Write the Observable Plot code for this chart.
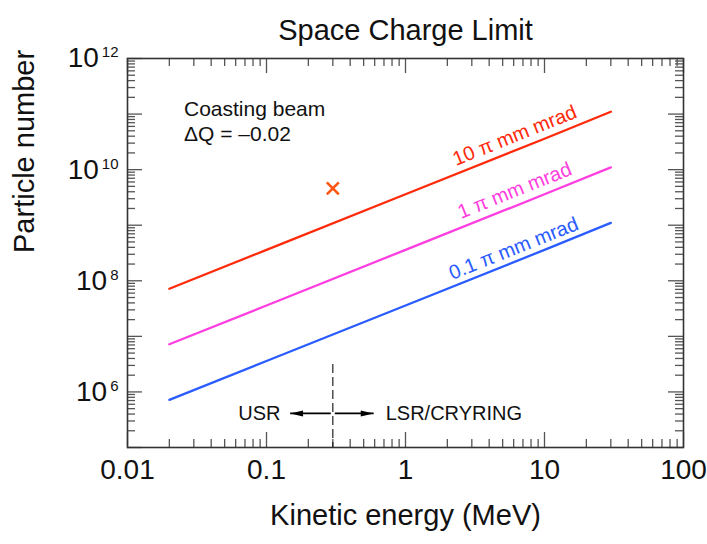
<!DOCTYPE html>
<html>
<head>
<meta charset="utf-8">
<script src="https://cdn.jsdelivr.net/npm/d3@7"></script>
<script src="https://cdn.jsdelivr.net/npm/@observablehq/plot@0.6"></script>
<style>
  html, body { margin: 0; padding: 0; background: #fff; }
</style>
</head>
<body>
<div id="chart"></div>
<script>
// ---- data ----
const energy = [0.02, 0.1, 1, 10, 30];                 // MeV
const n10pi = [7.2e7, 3.6e8, 3.6e9, 3.6e10, 1.1e11];  // 10 π mm mrad
const n1pi  = [7.2e6, 3.6e7, 3.6e8, 3.6e9, 1.1e10];   // 1 π mm mrad
const n01pi = [7.2e5, 3.6e6, 3.6e7, 3.6e8, 1.1e9];    // 0.1 π mm mrad

const seriesNames = ["10 π mm mrad", "1 π mm mrad", "0.1 π mm mrad"];
const seriesColors = ["#ff2a0a", "#ff3ee0", "#2a5cff"];
const labelE = [6.1, 6.1, 6.0];
const labelN = [4.1e10, 4.2e9, 3.8e8];

const markerE = [0.3];
const markerN = [4.6e9];

const boundaryE = [0.3];
const boundaryN = [3.1e6, 1e5];

const arrowFromE = [0.29, 0.31];
const arrowToE = [0.148, 0.59];
const arrowN = [4.1e5, 4.1e5];
const regionText = ["USR", "LSR/CRYRING"];
const regionE = [0.126, 0.72];
const regionAnchor = ["end", "start"];

const noteE = [0.0255];
const noteN = [1.95e11];
const noteText = ["Coasting beam\nΔQ = –0.02"];

const xTickValues = [0.01, 0.1, 1, 10, 100];
const xTickLabels = ["0.01", "0.1", "1", "10", "100"];
const yTickValues = [1e6, 1e8, 1e10, 1e12];
const yTickExponents = ["6", "8", "10", "12"];
const yDecades = [1e5, 1e6, 1e7, 1e8, 1e9, 1e10, 1e11, 1e12];

const titleText = "Space Charge Limit";
const xTitle = "Kinetic energy (MeV)";
const yTitle = "Particle number";

// minor ticks (2..9 within each decade)
const xMinor = [];
for (const d of [0.01, 0.1, 1, 10]) for (let k = 2; k <= 9; k++) xMinor.push(d * k);
const yMinor = [];
for (const d of yDecades.slice(0, -1)) for (let k = 2; k <= 9; k++) yMinor.push(d * k);

// ---- layout ----
const W = 707, H = 544;
const mL = 127, mR = 24, mT = 58, mB = 97;
const fw = W - mL - mR, fh = H - mT - mB;
const font = "'Liberation Sans', Arial, Helvetica, sans-serif";
const tickColor = "#555";

const rows = (ys) => energy.map((e, i) => ({e, n: ys[i]}));
const seriesRows = [n10pi, n1pi, n01pi];
const labels = seriesNames.map((s, i) => ({s, e: labelE[i], n: labelN[i], c: seriesColors[i]}));
const arrows = arrowFromE.map((e, i) => ({x1: e, x2: arrowToE[i], y: arrowN[i], rot: arrowToE[i] < e ? 180 : 0}));
const regions = regionText.map((t, i) => ({t, e: regionE[i], n: arrowN[i], a: regionAnchor[i]}));

const arrowHead = {
  draw(ctx, size) {
    const r = Math.sqrt(size / Math.PI);
    ctx.moveTo(0, 0);
    ctx.lineTo(-4.3 * r, -r);
    ctx.lineTo(-4.3 * r, r);
    ctx.closePath();
  }
};

const chart = Plot.plot({
  width: W, height: H,
  marginLeft: mL, marginRight: mR, marginTop: mT, marginBottom: mB,
  style: {fontFamily: font, background: "#fff", color: "#111"},
  x: {type: "log", domain: [0.01, 100]},
  y: {type: "log", domain: [1e5, 1e12]},
  marks: [
    // tick marks (inward, on all four sides)
    Plot.tickX(xTickValues, {x: d => d, insetTop: fh - 15, stroke: tickColor, strokeWidth: 1.3}),
    Plot.tickX(xTickValues, {x: d => d, insetBottom: fh - 15, stroke: tickColor, strokeWidth: 1.3}),
    Plot.tickX(xMinor, {x: d => d, insetTop: fh - 8, stroke: tickColor, strokeWidth: 1.3}),
    Plot.tickX(xMinor, {x: d => d, insetBottom: fh - 8, stroke: tickColor, strokeWidth: 1.3}),
    Plot.tickY(yDecades, {y: d => d, insetRight: fw - 15, stroke: tickColor, strokeWidth: 1.3}),
    Plot.tickY(yDecades, {y: d => d, insetLeft: fw - 15, stroke: tickColor, strokeWidth: 1.3}),
    Plot.tickY(yMinor, {y: d => d, insetRight: fw - 8, stroke: tickColor, strokeWidth: 1.3}),
    Plot.tickY(yMinor, {y: d => d, insetLeft: fw - 8, stroke: tickColor, strokeWidth: 1.3}),
    Plot.frame({stroke: "#333", strokeWidth: 1.6}),

    Plot.axisX({ticks: xTickValues, tickSize: 0, tickPadding: 12, fontSize: 28, label: null,
      tickFormat: d => xTickLabels[xTickValues.indexOf(d)]}),
    Plot.axisY({ticks: yTickValues, tickSize: 0, tickPadding: 9, fontSize: 28, label: null,
      tickFormat: d => yTickExponents[yTickValues.indexOf(d)]}),

    // series lines
    ...seriesRows.map((ys, i) => Plot.line(rows(ys), {x: "e", y: "n", stroke: seriesColors[i], strokeWidth: 2.3})),
    Plot.text(labels, {x: "e", y: "n", text: "s", fill: "c", rotate: -21.8, fontSize: 20}),

    // measured point
    Plot.dot(markerE.map((e, i) => ({e, n: markerN[i]})), {x: "e", y: "n", symbol: "times", r: 5.5, stroke: "#ff5511", strokeWidth: 2.6}),

    // USR / LSR boundary
    Plot.ruleX(boundaryE, {x: d => d, y1: boundaryN[0], y2: boundaryN[1], stroke: "#222", strokeWidth: 1.2, strokeDasharray: "9,4"}),
    Plot.link(arrows, {x1: "x1", x2: "x2", y1: "y", y2: "y", stroke: "#000", strokeWidth: 1.8}),
    Plot.dot(arrows, {x: "x2", y: "y", symbol: arrowHead, r: 3, fill: "#000", stroke: "none", rotate: "rot"}),
    Plot.text(regions.filter(d => d.a === "end"), {x: "e", y: "n", text: "t", textAnchor: "end", fontSize: 20, fill: "#111"}),
    Plot.text(regions.filter(d => d.a === "start"), {x: "e", y: "n", text: "t", textAnchor: "start", fontSize: 20, fill: "#111"}),

    // note
    Plot.text(noteText, {x: () => noteE[0], y: () => noteN[0], text: d => d, textAnchor: "start", lineAnchor: "top", lineHeight: 1.2, fontSize: 21, fill: "#111"}),

    // titles
    Plot.text([titleText], {frameAnchor: "top", text: d => d, dy: -39, fontSize: 29, fill: "#111"}),
    Plot.text([xTitle], {frameAnchor: "bottom", text: d => d, dy: 77, fontSize: 29, fill: "#111"}),
    Plot.text([yTitle], {frameAnchor: "left", text: d => d, dx: -103, rotate: -90, fontSize: 29, fill: "#111"})
  ]
});

// superscript exponents on y tick labels
const NS = "http://www.w3.org/2000/svg";
chart.querySelectorAll('g[aria-label="y-axis tick label"] text').forEach(t => {
  const exp = t.textContent;
  t.textContent = "";
  const base = document.createElementNS(NS, "tspan");
  base.textContent = "10";
  const sup = document.createElementNS(NS, "tspan");
  sup.textContent = exp;
  sup.setAttribute("dy", "-10");
  sup.setAttribute("dx", "3");
  sup.setAttribute("font-size", "15");
  t.append(base, sup);
});

document.getElementById("chart").append(chart);
</script>
</body>
</html>
